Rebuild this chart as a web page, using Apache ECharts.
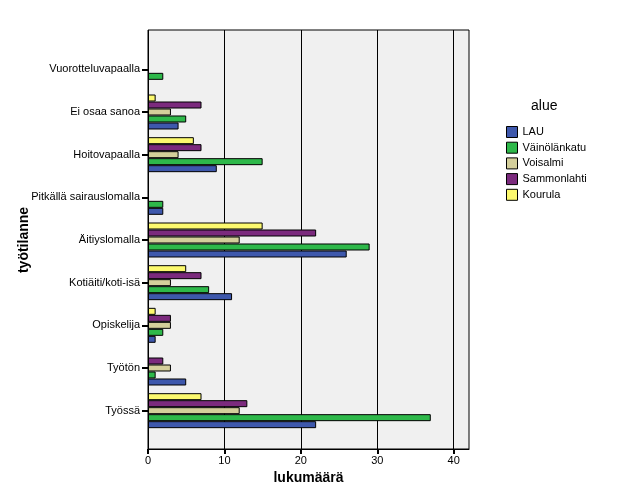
<!DOCTYPE html>
<html><head><meta charset="utf-8">
<script src="https://cdn.jsdelivr.net/npm/echarts@6/dist/echarts.min.js"></script>
<style>html,body{margin:0;padding:0;background:#fff}#c{width:625px;height:501px}</style>
</head><body><div id="c"></div>
<script>
// categories listed bottom to top
const categories = ["Työssä","Työtön","Opiskelija","Kotiäiti/koti-isä","Äitiyslomalla","Pitkällä sairauslomalla","Hoitovapaalla","Ei osaa sanoa","Vuorotteluvapaalla"];
const seriesNames = ["LAU","Väinölänkatu","Voisalmi","Sammonlahti","Kourula"];
const LAU          = [22,5,1,11,26,2,9,4,0];
const Vainolankatu = [37,1,2,8,29,2,15,5,2];
const Voisalmi     = [12,3,3,3,12,0,4,3,0];
const Sammonlahti  = [13,2,3,7,22,0,7,7,0];
const Kourula      = [7,0,1,5,15,0,6,1,0];
const xTicks = [0,10,20,30,40];
const colors = ["#3E58AC","#2EB84A","#D4CF9B","#7B2A7D","#FCF96E"];
const values = [LAU,Vainolankatu,Voisalmi,Sammonlahti,Kourula];
const font = "Liberation Sans, Arial, sans-serif";
const order = [4,3,2,1,0]; // draw Kourula first so it sits on top of each group
const chart = echarts.init(document.getElementById('c'));
chart.setOption({
  animation:false,
  textStyle:{fontFamily:font},
  grid:[
    {left:148,top:30,width:321,height:419,containLabel:false,show:true,backgroundColor:'#F0F0F0',borderColor:'#000',borderWidth:1},
    {left:148,top:48,width:321,height:384,containLabel:false}
  ],
  legend:{
    orient:'vertical', left:501, top:121, itemWidth:11, itemHeight:11, itemGap:3.7,
    textStyle:{fontFamily:font,fontSize:11,color:'#000'},
    data:seriesNames.map(n=>({name:n,icon:'rect'})),
    itemStyle:{borderColor:'#000',borderWidth:1}
  },
  graphic:[{type:'text',left:531,top:99,style:{text:'alue',font:'14px '+font,fill:'#000'}}],
  xAxis:[
    {type:'value',gridIndex:0,min:0,max:42,interval:10,z:0,
    name:'lukumäärä',nameLocation:'middle',nameGap:22,
    nameTextStyle:{fontFamily:font,fontSize:14,fontWeight:'bold',color:'#000'},
    axisLine:{show:true,lineStyle:{color:'#000'}},
    axisTick:{show:true,length:5,lineStyle:{color:'#000',width:2},customValues:xTicks},
    axisLabel:{fontSize:11,color:'#000',fontFamily:font,margin:6,customValues:xTicks},
    splitLine:{show:true,lineStyle:{color:'#000',width:1}}},
    {type:'value',gridIndex:1,min:0,max:42,show:false}
  ],
  yAxis:[
    {type:'value',gridIndex:0,min:0,max:1,show:false},
    {type:'category',gridIndex:1,data:categories,
    name:'työtilanne',nameLocation:'middle',nameGap:117,nameRotate:90,nameMoveOverlap:false,
    nameTextStyle:{fontFamily:font,fontSize:14,fontWeight:'bold',color:'#000'},
    axisLine:{show:false},
    axisTick:{show:true,alignWithLabel:true,length:6,lineStyle:{color:'#000',width:2}},
    axisLabel:{fontSize:11,color:'#000',fontFamily:font,margin:8}}
  ],
  series:order.map(i=>({
    name:seriesNames[i],type:'bar',xAxisIndex:1,yAxisIndex:1,z:10,
    data:values[i].map(v=>v===0?null:v),barGap:'0%',barCategoryGap:'18%',
    itemStyle:{color:colors[i],borderColor:'#000',borderWidth:1}
  }))
});
</script></body></html>
